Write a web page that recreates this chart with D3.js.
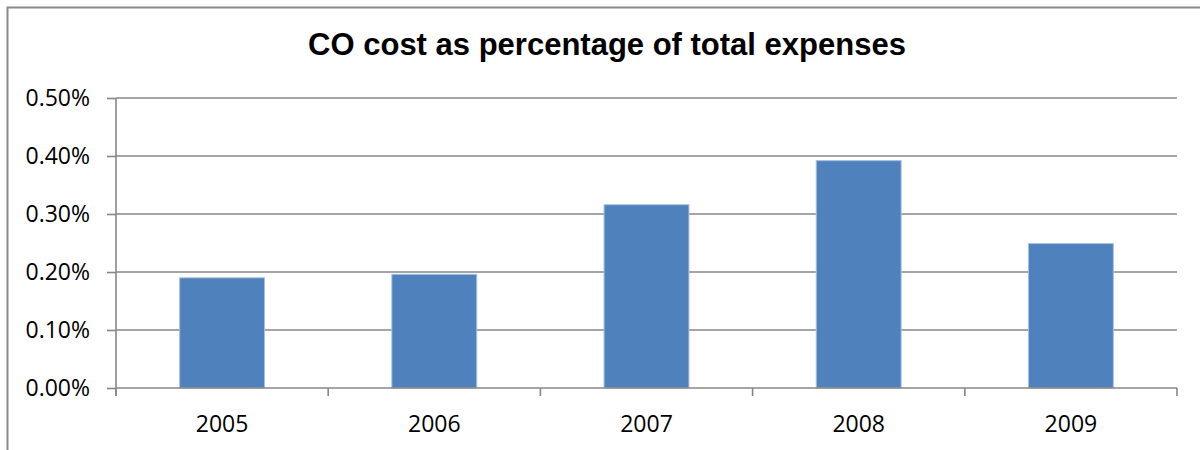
<!DOCTYPE html>
<html>
<head>
<meta charset="utf-8">
<script src="https://cdn.jsdelivr.net/npm/d3@7"></script>
<style>
  html, body { margin: 0; padding: 0; background: #fff; }
  svg { display: block; }
</style>
</head>
<body>
<svg id="chart" width="1200" height="450"></svg>
<script>
const title = "CO cost as percentage of total expenses";
const categories = ["2005", "2006", "2007", "2008", "2009"];
const values = [0.190, 0.196, 0.316, 0.392, 0.249];
const yTicks = [0, 0.1, 0.2, 0.3, 0.4, 0.5];

const svg = d3.select("#chart");
const W = 1200, H = 450;
const m = { left: 116, right: 1177, top: 98, bottom: 388 };
const gridColor = "#878787";
const labelFont = "'Open Sans', Calibri, sans-serif";

// outer chart border (left and top visible)
svg.append("path")
  .attr("d", `M7.5,${H} L7.5,7.5 L${W},7.5`)
  .attr("fill", "none")
  .attr("stroke", "#8a8a8a")
  .attr("stroke-width", 2);

svg.append("text")
  .attr("x", 607)
  .attr("y", 55)
  .attr("text-anchor", "middle")
  .attr("font-family", "'Liberation Sans', Arial, sans-serif")
  .attr("font-weight", "bold")
  .attr("font-size", 31)
  .attr("fill", "#000")
  .text(title);

const xBand = d3.scaleBand().domain(categories).range([m.left, m.right]);
const y = d3.scaleLinear().domain([0, 0.5]).range([m.bottom, m.top]);

// gridlines
svg.append("g")
  .selectAll("line")
  .data(yTicks.filter(d => d > 0))
  .join("line")
  .attr("x1", m.left).attr("x2", m.right)
  .attr("y1", d => y(d)).attr("y2", d => y(d))
  .attr("stroke", gridColor)
  .attr("stroke-width", 1.6);

// bars
svg.append("g")
  .selectAll("rect")
  .data(values)
  .join("rect")
  .attr("x", (d, i) => xBand(categories[i]) + xBand.bandwidth() * 0.3)
  .attr("width", xBand.bandwidth() * 0.4)
  .attr("y", d => y(d))
  .attr("height", d => y(0) - y(d))
  .attr("fill", "#4F81BD")
  .attr("stroke", "#A7C0DE")
  .attr("stroke-width", 1);

// y axis
const yAxis = d3.axisLeft(y)
  .tickValues(yTicks)
  .tickFormat(d => d.toFixed(2) + "%")
  .tickSize(9)
  .tickPadding(17);
const gy = svg.append("g").attr("transform", `translate(${m.left},0)`).call(yAxis);
gy.attr("font-size", null).attr("font-family", null);
gy.select(".domain").remove();
gy.selectAll(".tick line").attr("stroke", gridColor).attr("stroke-width", 1.6);
gy.selectAll(".tick text")
  .attr("font-family", labelFont)
  .attr("font-size", 23)
  .attr("fill", "#000");
svg.append("line")
  .attr("x1", m.left).attr("x2", m.left)
  .attr("y1", m.top).attr("y2", m.bottom + 8)
  .attr("stroke", gridColor).attr("stroke-width", 1.6);

// x axis
const gx = svg.append("g").attr("transform", `translate(0,${m.bottom})`);
gx.append("line")
  .attr("x1", m.left).attr("x2", m.right)
  .attr("y1", 0).attr("y2", 0)
  .attr("stroke", gridColor).attr("stroke-width", 1.6);
const boundaries = categories.map(c => xBand(c)).concat([m.right]);
gx.selectAll("line.tk")
  .data(boundaries)
  .join("line")
  .attr("class", "tk")
  .attr("x1", d => d).attr("x2", d => d)
  .attr("y1", 0).attr("y2", 8)
  .attr("stroke", gridColor).attr("stroke-width", 1.6);
gx.selectAll("text")
  .data(categories)
  .join("text")
  .attr("x", d => xBand(d) + xBand.bandwidth() / 2)
  .attr("y", 44)
  .attr("text-anchor", "middle")
  .attr("font-family", labelFont)
  .attr("font-size", 23)
  .attr("fill", "#000")
  .text(d => d);
</script>
</body>
</html>
